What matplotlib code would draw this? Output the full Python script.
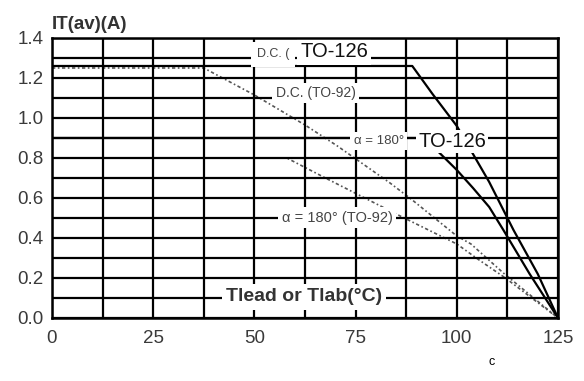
import matplotlib
matplotlib.use("Agg")
import matplotlib.pyplot as plt
from matplotlib.ticker import MultipleLocator

# curve data (temperature in degC, current in A)
dc126_t = [0, 89, 94, 100, 104, 108, 114, 120, 125]
dc126_i = [1.26, 1.26, 1.12, 0.96, 0.82, 0.68, 0.44, 0.22, 0.0]

a180_126_t = [0, 92, 97.5, 100, 104, 108, 111.5, 118, 125]
a180_126_i = [0.9, 0.9, 0.79, 0.74, 0.65, 0.555, 0.44, 0.22, 0.0]

dc92_t = [0, 37.5, 50, 62.5, 70.5, 83.5, 89, 100, 103.5, 111.5, 125]
dc92_i = [1.25, 1.25, 1.115, 0.965, 0.86, 0.675, 0.59, 0.41, 0.37, 0.225, 0.0]

a180_92_t = [0, 58, 68.5, 86.5, 100, 105.5, 112, 125]
a180_92_i = [0.8, 0.8, 0.69, 0.505, 0.37, 0.29, 0.2, 0.0]

x_ticks = [0, 25, 50, 75, 100, 125]
y_ticks = [0.0, 0.2, 0.4, 0.6, 0.8, 1.0, 1.2, 1.4]

plt.rcParams['font.family'] = ['Liberation Sans', 'DejaVu Sans']

fig = plt.figure(figsize=(5.84, 3.81), dpi=100)
ax = fig.add_axes([0.089, 0.1654, 0.8665, 0.7349])

ax.set_xlim(0, 125)
ax.set_ylim(0, 1.4)
ax.xaxis.set_minor_locator(MultipleLocator(12.5))
ax.yaxis.set_minor_locator(MultipleLocator(0.1))
ax.set_xticks(x_ticks)
ax.set_yticks(y_ticks)
ax.set_yticklabels([f"{v:.1f}" for v in y_ticks])
ax.grid(which='both', color='black', lw=1.6, zorder=1)
ax.set_axisbelow(True)
ax.tick_params(which='both', length=0, labelsize=13.5, labelcolor='#3a3a3a')
ax.tick_params(axis='x', pad=9)
ax.tick_params(axis='y', pad=6)
for s in ax.spines.values():
    s.set_linewidth(1.8)
    s.set_zorder(6)

# dotted TO-92 curves sit under the grid, so their flat parts vanish into it
dots = dict(color='#555555', lw=1.2, ls=(0, (2, 1.5, 1, 1.5)), zorder=0.2)
ax.plot(dc92_t, dc92_i, **dots)
ax.plot(a180_92_t, a180_92_i, **dots)
# solid TO-126 curves
ax.plot(dc126_t, dc126_i, color='black', lw=1.6, zorder=3)
ax.plot(a180_126_t, a180_126_i, color='black', lw=1.6, zorder=3)

box = dict(fc='white', ec='none', pad=2.5)
ax.text(50.6, 1.318, "D.C. (", fontsize=9, color='#444444', va='center',
        bbox=dict(fc='white', ec='none', pad=4.5), zorder=4)
ax.text(61.3, 1.33, "TO-126", fontsize=14.5, color='#111111', va='center',
        bbox=dict(fc='white', ec='none', pad=2.5), zorder=4)
ax.text(55.3, 1.125, "D.C. (TO-92)", fontsize=10, color='#444444', va='center',
        bbox=box, zorder=4)
ax.text(74.5, 0.885, "\u03b1 = 180\u00b0", fontsize=9.5, color='#444444', va='center',
        bbox=box, zorder=4)
ax.text(90.5, 0.882, "TO-126", fontsize=14.5, color='#111111', va='center',
        bbox=dict(fc='white', ec='none', pad=1.5), zorder=4)
ax.text(56.8, 0.5, "\u03b1 = 180\u00b0 (TO-92)", fontsize=10.5, color='#444444',
        va='center', bbox=box, zorder=4)
ax.text(43, 0.105, "Tlead or Tlab(\u00b0C)", fontsize=14, fontweight='bold',
        color='#333333', va='center', bbox=dict(fc='white', ec='none', pad=3),
        zorder=4)

fig.text(0.089, 0.937, "IT(av)(A)", fontsize=13.5, fontweight='bold',
         color='#333333', va='center')
fig.text(0.836, 0.05, "c", fontsize=9, color='black', va='center')

fig.savefig("out.png", dpi=100)
